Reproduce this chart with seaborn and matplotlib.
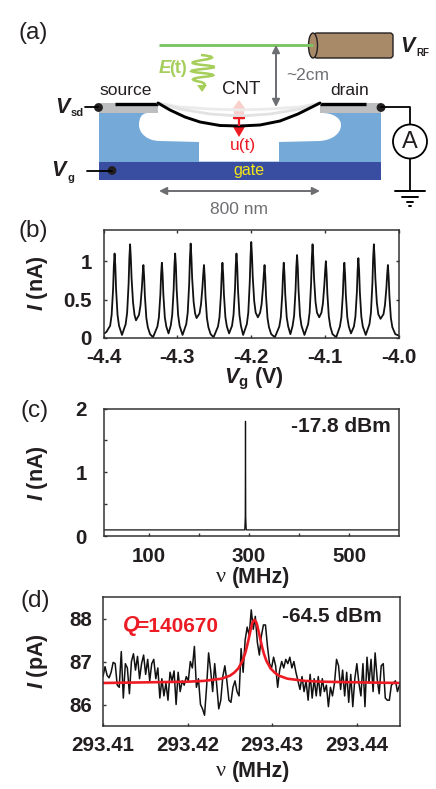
import matplotlib
matplotlib.use("Agg")
import matplotlib.pyplot as plt
import seaborn as sns
from matplotlib.path import Path
from matplotlib.patches import Rectangle, Polygon, Ellipse, Circle, FancyBboxPatch, PathPatch

W, H = 436, 789

# ---------------------------------------------------------
# DATA
# ---------------------------------------------------------

# panel b
gate_v = [
    -4.400, -4.396,
    -4.391, -4.389, -4.387, -4.386, -4.385, -4.384, -4.383, -4.381, -4.379, -4.375,
    -4.370, -4.368, -4.366, -4.365, -4.364, -4.363, -4.362, -4.360, -4.358, -4.356,
    -4.352, -4.350, -4.348, -4.347, -4.346, -4.345, -4.344, -4.342, -4.340, -4.337, -4.333,
    -4.327, -4.325, -4.323, -4.322, -4.321, -4.320, -4.319, -4.317, -4.315, -4.312,
    -4.309, -4.307, -4.305, -4.304, -4.303, -4.302, -4.301, -4.299, -4.297, -4.293,
    -4.288, -4.286, -4.284, -4.283, -4.282, -4.281, -4.280, -4.278, -4.276, -4.274,
    -4.270, -4.268, -4.266, -4.265, -4.264, -4.263, -4.262, -4.260, -4.258, -4.255, -4.251,
    -4.245, -4.243, -4.241, -4.240, -4.239, -4.238, -4.237, -4.235, -4.233, -4.230,
    -4.226, -4.224, -4.222, -4.221, -4.220, -4.219, -4.218, -4.216, -4.214, -4.211,
    -4.206, -4.204, -4.202, -4.201, -4.200, -4.199, -4.198, -4.196, -4.194, -4.191,
    -4.188, -4.186, -4.184, -4.183, -4.182, -4.181, -4.180, -4.178, -4.176, -4.173, -4.168,
    -4.162, -4.160, -4.158, -4.157, -4.156, -4.155, -4.154, -4.152, -4.150, -4.147,
    -4.144, -4.142, -4.140, -4.139, -4.138, -4.137, -4.136, -4.134, -4.132, -4.128,
    -4.123, -4.121, -4.119, -4.118, -4.117, -4.116, -4.115, -4.113, -4.111, -4.108,
    -4.105, -4.103, -4.101, -4.100, -4.099, -4.098, -4.097, -4.095, -4.093, -4.090, -4.085,
    -4.080, -4.078, -4.076, -4.075, -4.074, -4.073, -4.072, -4.070, -4.068, -4.065,
    -4.061, -4.059, -4.057, -4.056, -4.055, -4.054, -4.053, -4.051, -4.049, -4.045,
    -4.040, -4.038, -4.036, -4.035, -4.034, -4.033, -4.032, -4.030, -4.028, -4.025,
    -4.021, -4.019, -4.017, -4.016, -4.015, -4.014, -4.013, -4.011, -4.009, -4.005, -4.000,
]
current_na = [
    0.05, 0.08,
    0.16, 0.30, 0.64, 0.94, 1.10, 0.94, 0.64, 0.30, 0.16, 0.04,
    0.18, 0.33, 0.71, 1.04, 1.22, 1.04, 0.78, 0.46, 0.30, 0.23,
    0.30, 0.42, 0.66, 0.83, 0.95, 0.80, 0.55, 0.26, 0.14, 0.05, 0.01,
    0.15, 0.27, 0.57, 0.83, 0.98, 0.83, 0.57, 0.27, 0.15, 0.06,
    0.16, 0.30, 0.64, 0.94, 1.10, 0.94, 0.64, 0.30, 0.16, 0.04,
    0.18, 0.33, 0.71, 1.04, 1.23, 1.05, 0.78, 0.47, 0.32, 0.26,
    0.32, 0.44, 0.67, 0.83, 0.95, 0.80, 0.55, 0.26, 0.14, 0.05, 0.01,
    0.15, 0.27, 0.57, 0.83, 0.98, 0.83, 0.57, 0.27, 0.15, 0.06,
    0.16, 0.30, 0.64, 0.94, 1.10, 0.94, 0.64, 0.30, 0.16, 0.04,
    0.18, 0.33, 0.73, 1.06, 1.25, 1.07, 0.80, 0.48, 0.33, 0.27,
    0.33, 0.44, 0.67, 0.83, 0.95, 0.80, 0.55, 0.26, 0.14, 0.05, 0.01,
    0.15, 0.27, 0.57, 0.83, 0.98, 0.83, 0.57, 0.27, 0.15, 0.05,
    0.16, 0.29, 0.63, 0.92, 1.08, 0.92, 0.63, 0.29, 0.16, 0.04,
    0.18, 0.33, 0.71, 1.04, 1.22, 1.04, 0.78, 0.47, 0.33, 0.27,
    0.33, 0.45, 0.70, 0.87, 1.00, 0.84, 0.58, 0.28, 0.15, 0.05, 0.01,
    0.15, 0.27, 0.57, 0.83, 0.98, 0.83, 0.57, 0.27, 0.15, 0.06,
    0.15, 0.28, 0.60, 0.88, 1.04, 0.88, 0.60, 0.28, 0.15, 0.04,
    0.18, 0.33, 0.71, 1.04, 1.22, 1.04, 0.78, 0.46, 0.31, 0.25,
    0.31, 0.43, 0.66, 0.83, 0.95, 0.80, 0.55, 0.26, 0.14, 0.05, 0.03,
]

# panel c
freq_c_mhz = [9, 150, 290, 291.5, 292.5, 293, 293.5, 294.5, 296, 450, 600]
current_c_na = [0.10, 0.10, 0.10, 0.10, 0.30, 1.80, 0.30, 0.10, 0.10, 0.10, 0.10]

# panel d
freq_d_mhz = [
    293.41000, 293.41024, 293.41048, 293.41072, 293.41096, 293.41120, 293.41144, 293.41168, 293.41192, 293.41216,
    293.41240, 293.41264, 293.41288, 293.41312, 293.41336, 293.41360, 293.41384, 293.41408, 293.41432, 293.41456,
    293.41480, 293.41504, 293.41528, 293.41552, 293.41576, 293.41600, 293.41624, 293.41648, 293.41672, 293.41696,
    293.41720, 293.41744, 293.41768, 293.41792, 293.41816, 293.41840, 293.41864, 293.41888, 293.41912, 293.41936,
    293.41960, 293.41984, 293.42008, 293.42032, 293.42056, 293.42080, 293.42104, 293.42128, 293.42152, 293.42176,
    293.42200, 293.42224, 293.42248, 293.42272, 293.42296, 293.42320, 293.42344, 293.42368, 293.42392, 293.42416,
    293.42440, 293.42464, 293.42488, 293.42512, 293.42536, 293.42560, 293.42584, 293.42608, 293.42632, 293.42656,
    293.42680, 293.42704, 293.42728, 293.42752, 293.42776, 293.42800, 293.42824, 293.42848, 293.42872, 293.42896,
    293.42920, 293.42944, 293.42968, 293.42992, 293.43016, 293.43040, 293.43064, 293.43088, 293.43112, 293.43136,
    293.43160, 293.43184, 293.43208, 293.43232, 293.43256, 293.43280, 293.43304, 293.43328, 293.43352, 293.43376,
    293.43400, 293.43424, 293.43448, 293.43472, 293.43496, 293.43520, 293.43544, 293.43568, 293.43592, 293.43616,
    293.43640, 293.43664, 293.43688, 293.43712, 293.43736, 293.43760, 293.43784, 293.43808, 293.43832, 293.43856,
    293.43880, 293.43904, 293.43928, 293.43952, 293.43976, 293.44000, 293.44024, 293.44048, 293.44072, 293.44096,
    293.44120, 293.44144, 293.44168, 293.44192, 293.44216, 293.44240, 293.44264, 293.44288, 293.44312, 293.44336,
    293.44360, 293.44384, 293.44408, 293.44432, 293.44456, 293.44480, 293.44504,
]
current_pa = [
    86.65, 86.88, 86.68, 86.62, 86.75, 86.98, 86.95, 86.45, 86.40, 87.23,
    86.15, 86.95, 86.85, 86.25, 87.00, 87.18, 86.80, 87.12, 86.60, 86.95,
    87.15, 86.70, 87.05, 86.55, 86.95, 87.05, 86.60, 86.85, 86.15, 86.60,
    86.20, 86.50, 86.10, 86.75, 86.55, 86.78, 86.00, 86.75, 86.30, 86.55,
    86.45, 86.65, 86.55, 87.00, 86.85, 87.35, 86.40, 86.60, 86.00, 85.90,
    85.75, 86.40, 87.20, 86.80, 86.30, 86.95, 86.45, 85.90, 86.10, 86.65,
    86.90, 86.55, 86.10, 86.05, 86.40, 86.55, 86.30, 86.20, 87.30, 86.75,
    87.50, 87.80, 87.60, 88.20, 87.75, 88.05, 87.45, 87.15, 87.60, 87.85,
    87.85, 87.35, 86.95, 86.85, 87.10, 86.90, 86.40, 86.80, 87.00, 86.85,
    87.05, 86.95, 87.10, 86.85, 87.00, 86.75, 86.55, 86.35, 86.65, 86.30,
    86.55, 86.10, 86.70, 86.15, 86.60, 86.20, 86.65, 86.20, 86.60, 86.30,
    86.45, 85.95, 86.40, 86.20, 86.50, 87.05, 86.90, 86.35, 86.80, 86.20,
    86.75, 86.05, 86.70, 85.95, 86.60, 86.95, 86.50, 86.20, 86.95, 85.95,
    87.10, 86.50, 87.05, 86.30, 87.20, 86.60, 86.25, 86.90, 86.95, 86.15,
    86.10, 86.10, 86.45, 86.50, 86.55, 86.30, 86.45,
]
fit_mhz = [
    293.4100, 293.4200, 293.4220, 293.4240, 293.4250, 293.4255, 293.4260, 293.4265, 293.4268, 293.4270, 293.4272,
    293.4274, 293.4276, 293.4277, 293.4279, 293.4281, 293.4282, 293.4284, 293.4286, 293.4288, 293.4290, 293.4293,
    293.4298, 293.4303, 293.4308, 293.4318, 293.4338, 293.4358, 293.4451,
]
fit_pa = [
    86.50, 86.53, 86.55, 86.60, 86.67, 86.74, 86.84, 87.02, 87.19, 87.34, 87.51,
    87.69, 87.86, 87.92, 87.97, 87.92, 87.86, 87.69, 87.51, 87.34, 87.19, 87.02,
    86.84, 86.74, 86.67, 86.60, 86.55, 86.53, 86.50,
]

# ---------------------------------------------------------
# STYLE
# ---------------------------------------------------------

sns.set_style("ticks")
plt.rcParams["font.family"] = ["Liberation Sans", "DejaVu Sans"]
plt.rcParams["mathtext.fontset"] = "custom"
plt.rcParams["mathtext.rm"] = "Liberation Sans:bold"
plt.rcParams["mathtext.bf"] = "Liberation Sans:bold"
plt.rcParams["mathtext.it"] = "Liberation Sans:italic:bold"
plt.rcParams["mathtext.bfit"] = "Liberation Sans:italic:bold"
plt.rcParams["mathtext.default"] = "it"

DARK = "#231f20"
FRAME = "#333333"
RED = "#ed1c24"
GREY = "#6d6e71"
TICK_SIZE = 14.8


def px_axes(left, top, right, bottom):
    return fig.add_axes([left / W, 1 - bottom / H, (right - left) / W, (bottom - top) / H])


def style_panel(ax, pad_x, pad_y):
    for s in ax.spines.values():
        s.set_color(FRAME)
        s.set_linewidth(1.1)
    ax.tick_params(direction="in", length=2.5, width=1, color=FRAME, labelcolor=DARK, labelsize=TICK_SIZE)
    ax.tick_params(axis="x", pad=pad_x)
    ax.tick_params(axis="y", pad=pad_y)
    for t in ax.get_xticklabels() + ax.get_yticklabels():
        t.set_fontweight("bold")
    ax.set_xlabel("")
    ax.set_ylabel("")


fig = plt.figure(figsize=(W / 100, H / 100), dpi=100, facecolor="white")

# ---------------------------------------------------------
# PANEL B
# ---------------------------------------------------------

ax_b = px_axes(103.5, 230.5, 399, 338)
sns.lineplot(x=gate_v, y=current_na, ax=ax_b, sort=False, errorbar=None, color="#111111", linewidth=1.3)
ax_b.set_xlim(-4.4, -4.0)
ax_b.set_ylim(0, 1.4)
ax_b.set_xticks([-4.4, -4.3, -4.2, -4.1, -4.0], ["-4.4", "-4.3", "-4.2", "-4.1", "-4.0"])
ax_b.set_yticks([0, 0.5, 1], ["0", "0.5", "1"])
ax_b.tick_params(top=True, right=True)
style_panel(ax_b, 7, 8.5)

# ---------------------------------------------------------
# PANEL C
# ---------------------------------------------------------

ax_c = px_axes(103.5, 408.5, 399, 536.3)
sns.lineplot(x=freq_c_mhz, y=current_c_na, ax=ax_c, sort=False, errorbar=None, color="#111111", linewidth=0.9)
ax_c.set_xlim(9, 600)
ax_c.set_ylim(0, 2)
ax_c.set_xticks([100, 200, 300, 400, 500], ["100", "", "300", "", "500"])
ax_c.set_yticks([0, 0.5, 1, 1.5, 2], ["0", "", "1", "", "2"])
style_panel(ax_c, 8, 12)

# ---------------------------------------------------------
# PANEL D
# ---------------------------------------------------------

ax_d = px_axes(103, 597, 400, 726)
sns.lineplot(x=freq_d_mhz, y=current_pa, ax=ax_d, sort=False, errorbar=None, color="#111111", linewidth=1.1)
sns.lineplot(x=fit_mhz, y=fit_pa, ax=ax_d, sort=False, errorbar=None, color=RED, linewidth=1.9)
ax_d.set_xlim(293.41, 293.4451)
ax_d.set_ylim(85.5, 88.5)
ax_d.set_xticks([293.41, 293.42, 293.43, 293.44], ["293.41", "293.42", "293.43", "293.44"])
ax_d.set_yticks([86, 87, 88], ["86", "87", "88"])
style_panel(ax_d, 7, 7.5)

# ---------------------------------------------------------
# OVERLAY, PANEL A AND TEXT (pixel coordinates)
# ---------------------------------------------------------

ov = fig.add_axes([0, 0, 1, 1], zorder=5)
ov.set_xlim(0, W)
ov.set_ylim(H, 0)
ov.axis("off")
ov.patch.set_alpha(0)


def label(x, y, s, size=12.5, color=DARK, **kw):
    kw.setdefault("ha", "center")
    kw.setdefault("va", "center")
    ov.text(x, y, s, fontsize=size, color=color, **kw)


# device body
ov.add_patch(Rectangle((98.5, 112), 282.5, 50, fc="#74a9d8", ec="none"))
ov.add_patch(Rectangle((98.5, 162), 282.5, 18, fc="#3a4ea1", ec="none"))
ov.add_patch(Rectangle((99, 103), 59, 9.5, fc="#bcbec0", ec="none"))
ov.add_patch(Rectangle((320, 103), 61, 9.5, fc="#bcbec0", ec="none"))

# undercut cavity
cavity_verts = [
    (158, 113), (148, 113),
    (141, 113), (139, 119), (139, 125),
    (139, 133), (147, 141), (160, 141),
    (199, 142), (199, 161.5), (279, 161.5), (279, 142), (320, 141),
    (333, 140), (341, 133), (341, 125),
    (341, 118), (333, 113), (322, 113),
    (158, 113),
]
cavity_codes = [
    Path.MOVETO, Path.LINETO,
    Path.CURVE4, Path.CURVE4, Path.CURVE4,
    Path.CURVE4, Path.CURVE4, Path.CURVE4,
    Path.LINETO, Path.LINETO, Path.LINETO, Path.LINETO, Path.LINETO,
    Path.CURVE4, Path.CURVE4, Path.CURVE4,
    Path.CURVE4, Path.CURVE4, Path.CURVE4,
    Path.CLOSEPOLY,
]
ov.add_patch(PathPatch(Path(cavity_verts, cavity_codes), fc="white", ec="none"))
ov.add_patch(Rectangle((158, 100), 162, 13.5, fc="white", ec="none"))

# contacts and nanotube
ov.plot([115, 158], [103.5, 103.5], color="black", lw=2.4, solid_capstyle="butt")
ov.plot([320, 366], [103.5, 103.5], color="black", lw=2.4, solid_capstyle="butt")

ghost_x = [158, 180, 210, 240, 270, 300, 320]
ov.plot(ghost_x, [103, 107, 109, 110, 109, 107, 103], color="#ebebeb", lw=2)
ov.plot(ghost_x, [103, 109, 114, 116, 114, 109, 103], color="#e2e2e2", lw=2)

cnt_x = [158, 170, 185, 200, 220, 240, 260, 280, 298, 310, 320]
cnt_y = [103, 110, 117, 122, 125.5, 126, 125, 121, 114, 108, 103]
ov.plot(cnt_x, cnt_y, color="black", lw=2.1, solid_capstyle="round", solid_joinstyle="round")

# RF line and cable
ov.add_patch(FancyBboxPatch((314, 33), 79, 25, boxstyle="round,pad=0,rounding_size=3", fc="#a88a68", ec="#231f20", lw=1))
ov.add_patch(Ellipse((313, 45.5), 9, 25, fc="#a88a68", ec="#231f20", lw=1))
ov.plot([159, 313], [45, 45], color="#7cc462", lw=2.1, solid_capstyle="butt")

# E field squiggle, smoothed through quadratic segments
sq_verts = [
    (201, 55), (222, 57), (203, 60), (182, 63), (203, 65), (226, 67), (203, 69),
    (180, 71), (202, 73), (224, 75), (203, 77), (184, 79), (201, 82), (208, 84), (202, 87),
]
sq_codes = [Path.MOVETO] + [Path.CURVE3] * 14
ov.add_patch(PathPatch(Path(sq_verts, sq_codes), fc="none", ec="#a6ce5b", lw=1.8))
ov.add_patch(Polygon([(197, 85), (207, 85), (202, 92)], closed=True, fc="#a6ce5b", ec="none"))
label(158, 68, r"$E$", size=13.5, color="#a6ce5b", ha="left")
label(169, 68, "(t)", size=13, color="#a6ce5b", ha="left", fontweight="bold")

# arrows
arrow = dict(arrowstyle="<|-|>", color=GREY, lw=1.4, shrinkA=0, shrinkB=0, mutation_scale=11)
ov.annotate("", xy=(276, 45), xytext=(276, 107), arrowprops=arrow)
ov.annotate("", xy=(159, 191), xytext=(320, 191), arrowprops=arrow)

# u(t) arrows
ov.add_patch(Polygon([(234, 111), (244, 111), (244, 120), (234, 120)], closed=True, fc="#f9d0cc", ec="none"))
ov.add_patch(Polygon([(231, 111), (247, 111), (239, 100)], closed=True, fc="#f9d0cc", ec="none"))
ov.plot([233, 245], [118, 118], color=RED, lw=1.5, solid_capstyle="butt")
ov.plot([239, 239], [118, 126], color=RED, lw=1.6, solid_capstyle="butt")
ov.add_patch(Polygon([(232, 125), (246, 125), (239, 137)], closed=True, fc=RED, ec="none"))

# circuit
ov.plot([85, 98], [107, 107], color="black", lw=1.3)
ov.add_patch(Circle((98.5, 107.5), 4.4, fc="#231f20", ec="none"))
ov.plot([87, 112], [170.5, 170.5], color="black", lw=1.3)
ov.add_patch(Circle((112, 170.5), 4.4, fc="#231f20", ec="none"))
ov.add_patch(Circle((381, 107.5), 4.4, fc="#231f20", ec="none"))
ov.plot([381, 410, 410], [107, 107, 124], color="black", lw=1.3)
ov.add_patch(Circle((410, 141.5), 17, fc="white", ec="black", lw=1.3))
ov.plot([410, 410], [159, 190], color="black", lw=1.3)
ov.plot([395, 425], [190.5, 190.5], color="black", lw=1.4)
ov.plot([402, 418], [197, 197], color="black", lw=1.4)
ov.plot([407, 413], [201.5, 201.5], color="black", lw=1.4)
ov.plot([409, 411], [206, 206], color="black", lw=1.4)

# panel a text
label(18, 33, "(a)", size=17.5, ha="left")
label(18, 231, "(b)", size=17.5, ha="left")
label(20, 411, "(c)", size=17.5, ha="left")
label(20, 601, "(d)", size=17.5, ha="left")
label(126, 90, "source")
label(350, 90, "drain")
label(241, 89, "CNT", size=13.5)
label(308, 75, "~2cm", color=GREY)
label(243, 145, "u(t)", color=RED)
label(249, 170, "gate", size=11.5, color="#f5e616")
label(239, 209, "800 nm", color=GREY)
label(410, 141.5, "A", size=17)
label(400, 46, r"$V$", size=15.5, ha="left")
label(416, 53, "RF", size=7, ha="left", fontweight="bold")
label(55, 107, r"$V$", size=15.5, ha="left")
label(71, 113, "sd", size=8, ha="left", fontweight="bold")
label(51, 170, r"$V$", size=15.5, ha="left")
label(67, 178, "g", size=8, ha="left", fontweight="bold")

# axis titles and annotations
label(37, 283, r"$I$ (nA)", size=15.5, rotation=90, fontweight="bold")
label(37, 473, r"$I$ (nA)", size=15.5, rotation=90, fontweight="bold")
label(37, 661, r"$I$ (pA)", size=15.5, rotation=90, fontweight="bold")
label(254, 379, r"$V_{\mathbf{g}}$ (V)", size=15.5, fontweight="bold")
label(221, 577, "\u03bd", size=16, family="Liberation Serif")
label(232, 577, "(MHz)", size=15.5, ha="left", fontweight="bold")
label(221, 771, "\u03bd", size=16, family="Liberation Serif")
label(232, 771, "(MHz)", size=15.5, ha="left", fontweight="bold")
label(341, 426, "-17.8 dBm", size=15, fontweight="bold")
label(332, 616, "-64.5 dBm", size=15, fontweight="bold")
label(122, 626, r"$Q$", size=15.5, color=RED, ha="left")
label(136, 626, "=140670", size=15, color=RED, ha="left", fontweight="bold")

fig.savefig("out.png", dpi=100)
